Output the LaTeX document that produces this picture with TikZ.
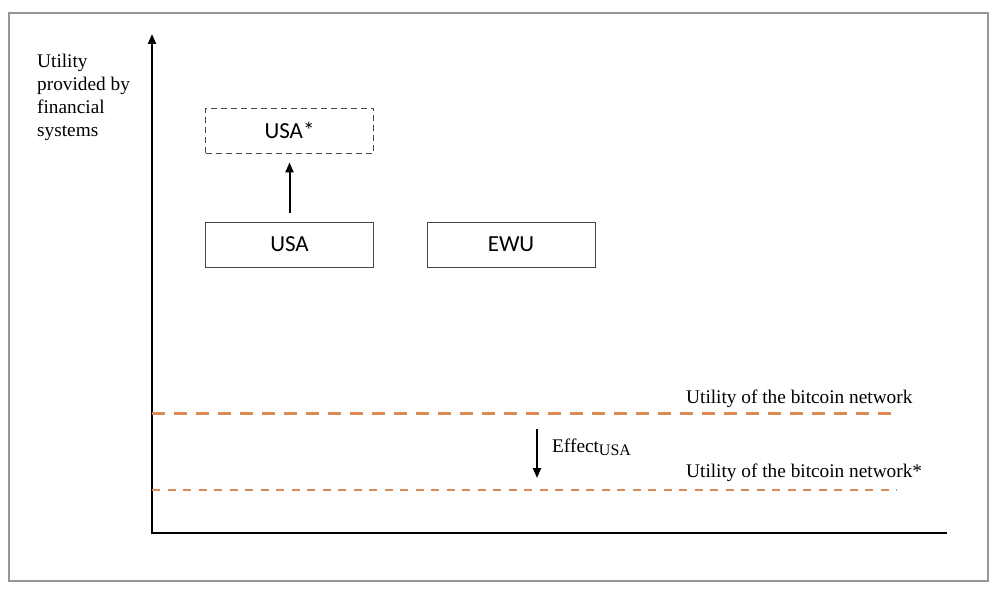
\documentclass[tikz,border=0pt]{standalone}
\usepackage{fontspec}
\setmainfont{Liberation Serif}
\newfontfamily\boxfont{Carlito}
\usetikzlibrary{arrows.meta}
\definecolor{bitorange}{RGB}{220,138,84}
\definecolor{framegray}{RGB}{150,150,150}
\definecolor{boxgray}{RGB}{70,70,70}
\begin{document}
\begin{tikzpicture}[x=1pt,y=-1pt,
  catbox/.style={draw=boxgray,line width=0.9pt,minimum width=168pt,minimum height=45pt,inner sep=0pt,font=\boxfont\fontsize{23}{26}\selectfont},
  dashbox/.style={catbox,dash pattern=on 6pt off 4pt},
  lbl/.style={font=\fontsize{19.3}{23}\selectfont,inner sep=0pt},
  bitline/.style={draw=bitorange,line width=3pt,dash pattern=on 13pt off 9pt},
  bitlinestar/.style={draw=bitorange,line width=2pt,dash pattern=on 8pt off 7.5pt},
  axis/.style={draw=black,line width=2.2pt},
  arr/.style={-{Triangle[length=10pt,width=8pt]},line width=2pt}
]
\useasboundingbox (0,0) rectangle (999,591);
\draw[framegray,line width=1.2pt] (9,13) rectangle (988,581);
% axes
\coordinate (origin) at (152,533);
\coordinate (ytop) at (152,34);
\coordinate (xend) at (947,533);
\draw[axis,-{Triangle[length=10pt,width=8pt]}] (origin) -- (ytop);
\draw[axis] ([xshift=-1.1pt]origin) -- (xend);
% y label
\node[lbl,anchor=base west,align=left] (ylabel) at (37,137) {Utility\\provided by\\financial\\systems};
% boxes
\node[dashbox] (usastar) at (289.5,130.5) {USA*};
\node[catbox] (usa) at (289.5,244.5) {USA};
\node[catbox] (ewu) at (511,244.5) {EWU};
\draw[arr] ([yshift=9pt]usa.north) -- ([yshift=-9pt]usastar.south);
% bitcoin lines
\coordinate (b1s) at (152,413);
\coordinate (b1e) at (897,413);
\coordinate (b2s) at (152,490);
\coordinate (b2e) at (897,490);
\draw[bitline] (b1s) -- (b1e);
\draw[bitlinestar] (b2s) -- (b2e);
\node[lbl,anchor=base west] (bit1) at (686,403) {Utility of the bitcoin network};
\node[lbl,anchor=base west] (bit2) at (686,477) {Utility of the bitcoin network*};
% effect
\coordinate (e1) at (537,429);
\coordinate (e2) at (537,478);
\draw[arr] (e1) -- (e2);
\node[lbl,anchor=base west] (effect) at (552,452) {Effect\textsubscript{\fontsize{16}{16}\selectfont USA}};
\end{tikzpicture}
\end{document}
